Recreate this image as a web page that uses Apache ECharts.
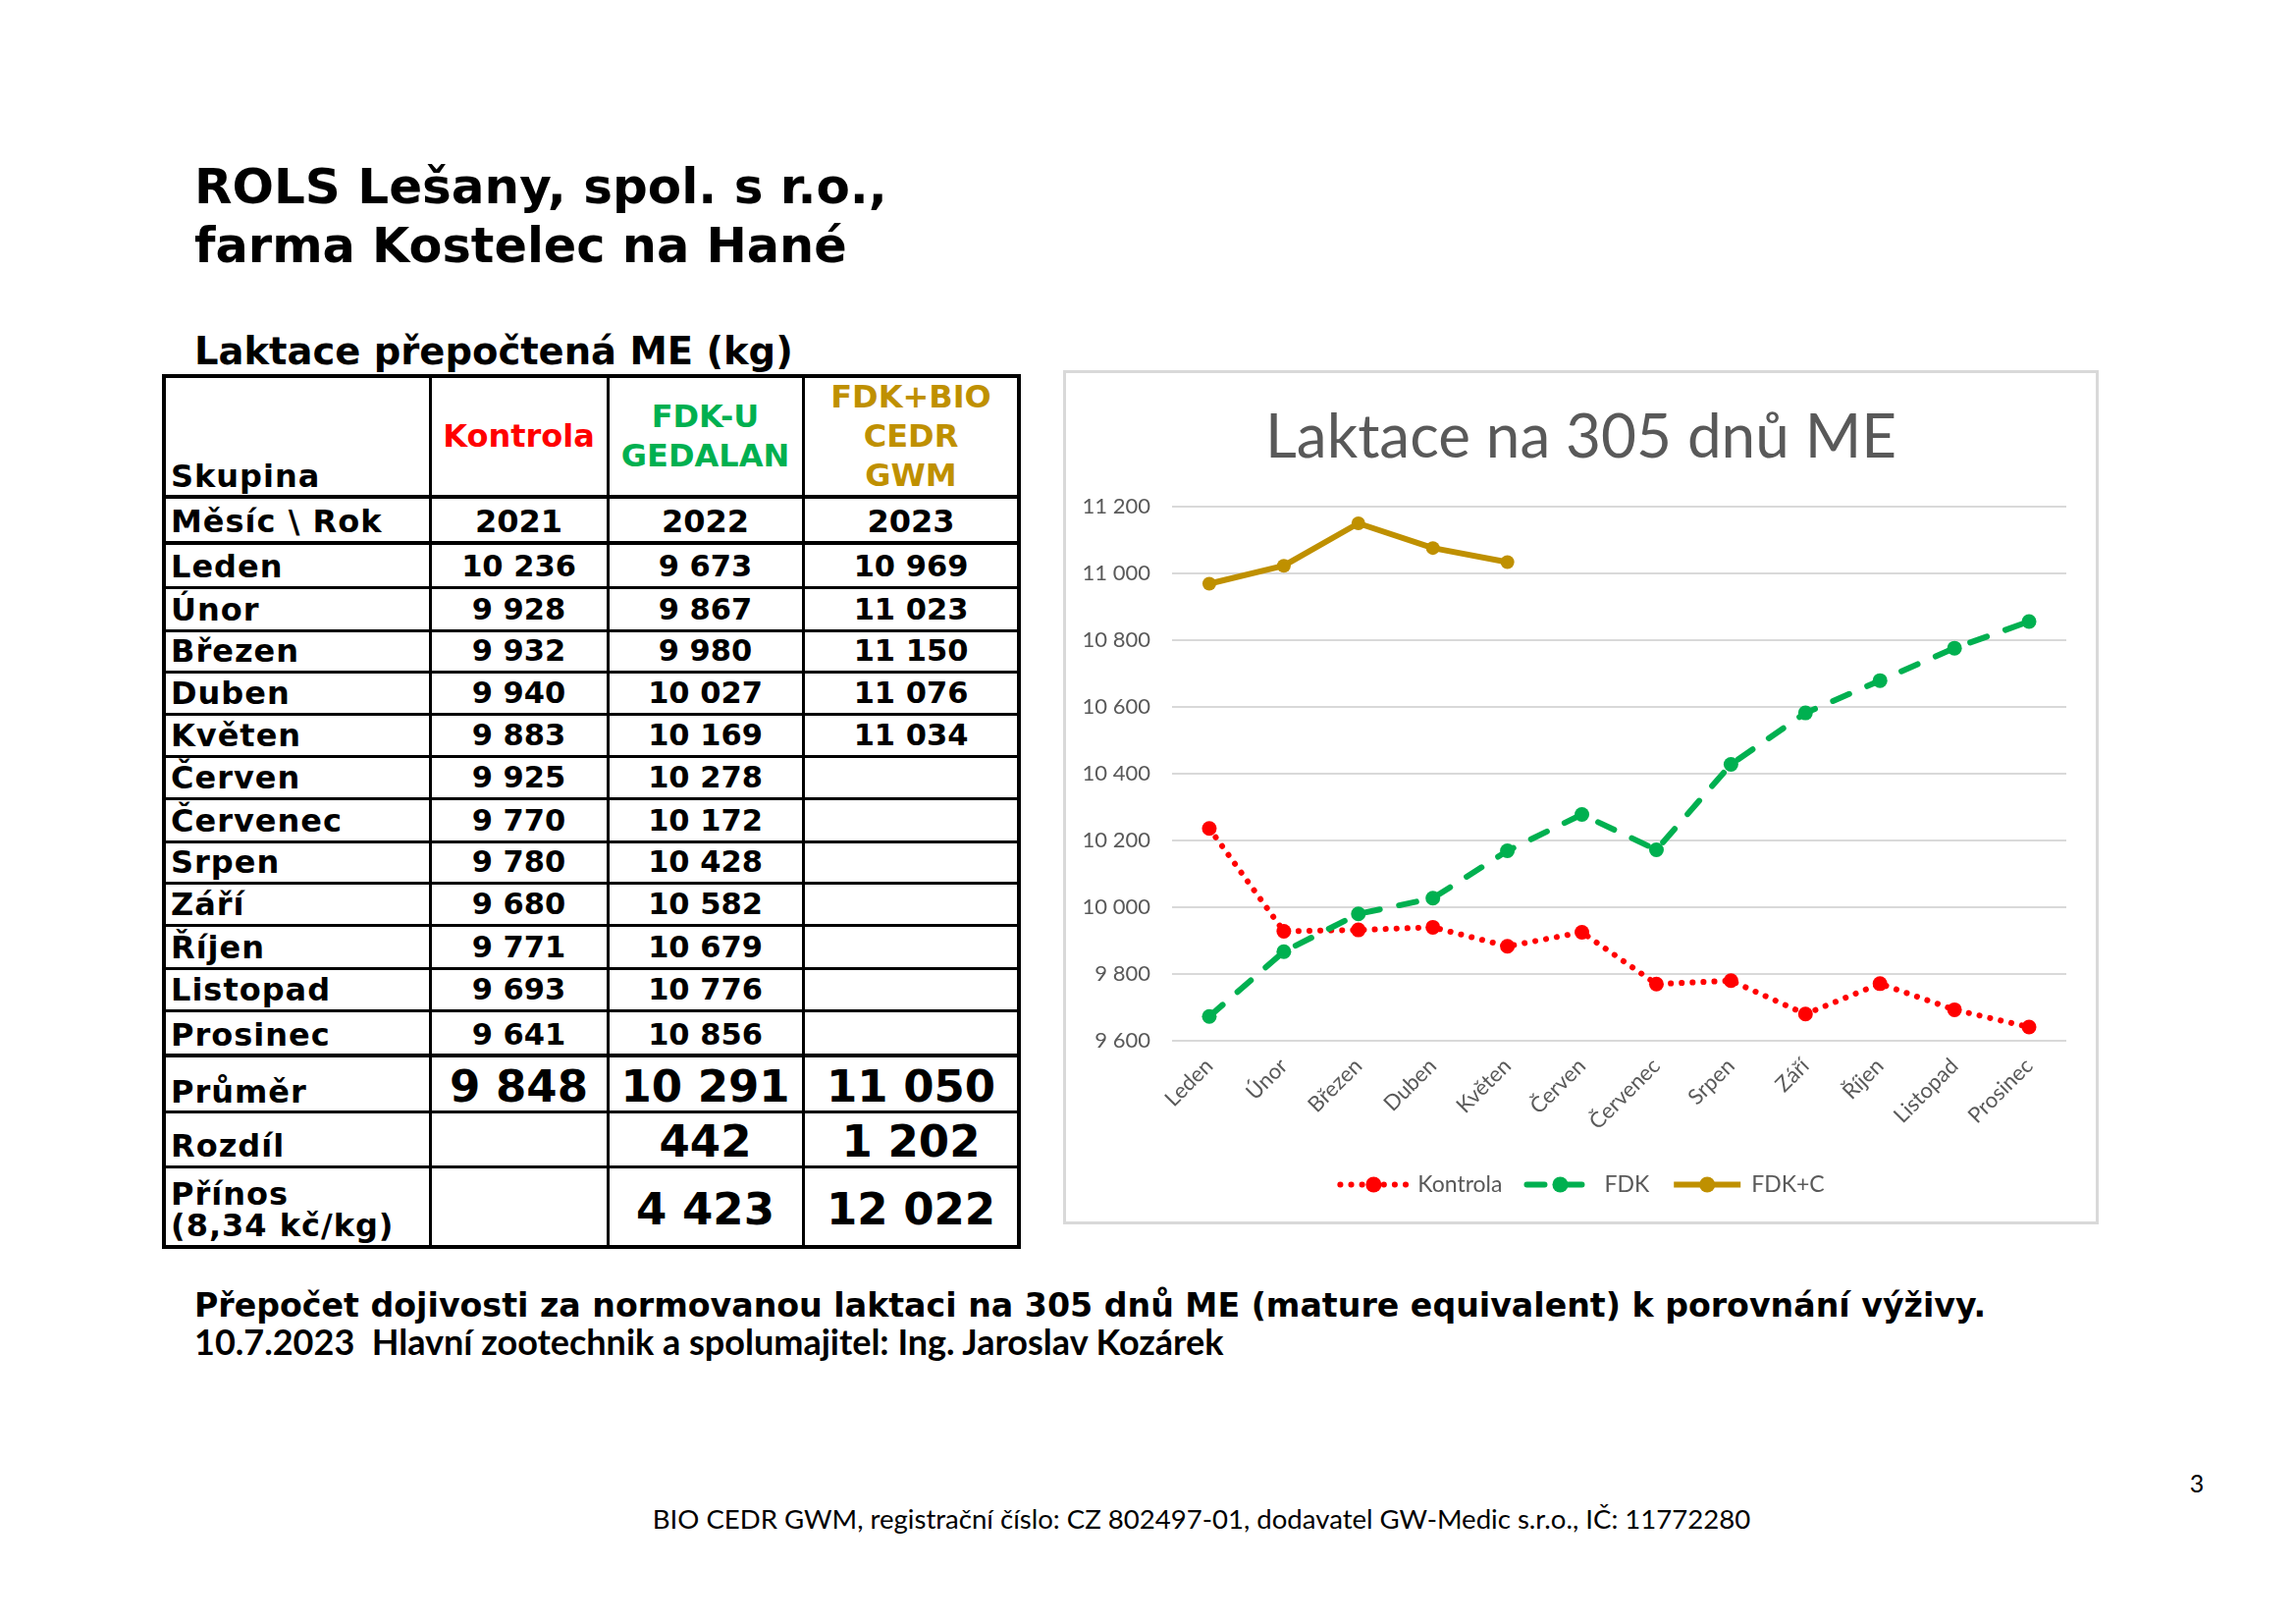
<!DOCTYPE html>
<html><head><meta charset="utf-8">
<script src="https://cdn.jsdelivr.net/npm/echarts@6/dist/echarts.min.js"></script>
<style>
html,body{margin:0;padding:0;background:#fff;}
#page{position:relative;width:2339px;height:1654px;overflow:hidden;background:#fff;}
.t{position:absolute;white-space:pre;line-height:1;}
.ln{position:absolute;background:#000;}
#chart{position:absolute;left:1085px;top:379px;width:1051px;height:865px;}
#chartBorder{position:absolute;left:1083px;top:377px;width:1055px;height:870px;border:3px solid #d9d9d9;box-sizing:border-box;pointer-events:none;}
</style></head>
<body><div id="page"><div id="chart"></div><div id="chartBorder"></div></div>
<script>
// ---------------- DATA ----------------
const months = ['Leden','Únor','Březen','Duben','Květen','Červen','Červenec','Srpen','Září','Říjen','Listopad','Prosinec'];
const kontrola = [10236, 9928, 9932, 9940, 9883, 9925, 9770, 9780, 9680, 9771, 9693, 9641];
const fdk = [9673, 9867, 9980, 10027, 10169, 10278, 10172, 10428, 10582, 10679, 10776, 10856];
const fdkPlusC = [10969, 11023, 11150, 11076, 11034];
const seriesNames = ['Kontrola', 'FDK', 'FDK+C'];
const groupNames = ['Kontrola', 'FDK-U\nGEDALAN', 'FDK+BIO\nCEDR\nGWM'];
const years = ['2021', '2022', '2023'];
const averages = [9848, 10291, 11050];
const differences = [null, 442, 1202];
const benefits = [null, 4423, 12022];
const yMin = 9600, yMax = 11200, yStep = 200;
const chartTitle = 'Laktace na 305 dnů ME';
const pageTitle = ['ROLS Lešany, spol. s r.o.,', 'farma Kostelec na Hané'];
const tableTitle = 'Laktace přepočtená ME (kg)';
const rowLabels = ['Skupina', 'Měsíc \\ Rok', 'Průměr', 'Rozdíl', 'Přínos\n(8,34 kč/kg)'];
const noteLines = ['Přepočet dojivosti za normovanou laktaci na 305 dnů ME (mature equivalent) k porovnání výživy.',
                   '10.7.2023  Hlavní zootechnik a spolumajitel: Ing. Jaroslav Kozárek'];
const footerText = 'BIO CEDR GWM, registrační číslo: CZ 802497-01, dodavatel GW-Medic s.r.o., IČ: 11772280';
const pageNumber = '3';

// ---------------- COLORS / STYLE ----------------
const RED = '#FF0000', GREEN = '#00B050', GOLD = '#BF9000', GREY = '#595959';
const groupColors = [RED, GREEN, GOLD];
const DV = "'DejaVu Sans', Verdana, sans-serif";
const LATO = "Lato, 'Open Sans', sans-serif";
const ASC = {dv: 0.846, lato: 0.887};

const fmt = v => (v == null ? '' : String(v).replace(/\B(?=(\d{3})+(?!\d))/g, ' '));
const page = document.getElementById('page');

function place(text, o) {
  const s = document.createElement('span');
  s.className = 't';
  s.textContent = text;
  s.style.fontFamily = o.ff || DV;
  s.style.fontWeight = o.fw || 'bold';
  s.style.fontSize = o.fs + 'px';
  s.style.color = o.color || '#000';
  if (o.ls) s.style.letterSpacing = o.ls + 'px';
  page.appendChild(s);
  let fs = o.fs;
  if (o.w) {
    const w0 = s.getBoundingClientRect().width;
    fs = o.fs * o.w / w0;
    s.style.fontSize = fs + 'px';
  }
  const w = s.getBoundingClientRect().width - (o.ls || 0);
  s.style.top = (o.base - (o.asc || ASC.dv) * fs) + 'px';
  s.style.left = (o.cx != null ? o.cx - w / 2 : o.x) + 'px';
  return s;
}
function line(x, y, w, h) {
  const d = document.createElement('div');
  d.className = 'ln';
  d.style.left = x + 'px'; d.style.top = y + 'px';
  d.style.width = w + 'px'; d.style.height = h + 'px';
  page.appendChild(d);
}

// ---------------- HEADINGS ----------------
place(pageTitle[0], {x: 198, base: 207, fs: 47, w: 706});
place(pageTitle[1], {x: 198, base: 268, fs: 47, w: 665});
place(tableTitle, {x: 198, base: 372, fs: 38, w: 610});

// ---------------- TABLE ----------------
const colX = [167, 438, 619, 818, 1038];
const rowY = [383, 506, 553, 598, 642, 684, 727, 770, 813, 857, 899, 942, 986, 1029, 1075, 1132, 1188, 1270];
const colC = [0, 1, 2].map(i => (colX[i + 1] + colX[i + 2]) / 2);
const LX = 174;
const LBL = {fs: 32, ls: 1};
rowY.forEach((y, i) => {
  const thick = (i === 0 || i === rowY.length - 1) ? 4 : (i === 1 || i === 2 || i === 14) ? 4 : 3;
  line(colX[0], y - thick / 2, colX[4] - colX[0], thick);
});
colX.forEach((x, i) => {
  const thick = (i === 0 || i === 4) ? 4 : 3;
  line(x - thick / 2, rowY[0] - 2, thick, rowY[rowY.length - 1] - rowY[0] + 4);
});
// header row
place(rowLabels[0], Object.assign({x: LX, base: 496}, LBL));
groupNames.forEach((g, i) => {
  const parts = g.split('\n');
  const c = (rowY[0] + rowY[1]) / 2;
  parts.forEach((p, k) => {
    place(p, {cx: colC[i], base: c + 11 + (k - (parts.length - 1) / 2) * 40, fs: 32, color: groupColors[i]});
  });
});
// year row
place(rowLabels[1], Object.assign({x: LX, base: rowY[2] - 11}, LBL));
years.forEach((y, i) => place(y, {cx: colC[i], base: rowY[2] - 11, fs: 32}));
// months
months.forEach((m, r) => {
  const base = rowY[3 + r] - 10;
  place(m, Object.assign({x: LX, base}, LBL));
  [kontrola[r], fdk[r], fdkPlusC[r]].forEach((v, i) => {
    if (v != null) place(fmt(v), {cx: colC[i], base, fs: 30.5});
  });
});
// summary rows
place(rowLabels[2], Object.assign({x: LX, base: rowY[15] - 9}, LBL));
averages.forEach((v, i) => place(fmt(v), {cx: colC[i], base: rowY[15] - 10, fs: 45}));
place(rowLabels[3], Object.assign({x: LX, base: rowY[16] - 10}, LBL));
differences.forEach((v, i) => { if (v != null) place(fmt(v), {cx: colC[i], base: rowY[16] - 10, fs: 45}); });
rowLabels[4].split('\n').forEach((p, k) => place(p, Object.assign({x: LX, base: 1227 + k * 32}, LBL)));
benefits.forEach((v, i) => { if (v != null) place(fmt(v), {cx: colC[i], base: rowY[17] - 23, fs: 45}); });

// ---------------- NOTES / FOOTER ----------------
place(noteLines[0], {x: 198, base: 1341, fs: 28, w: 1826});
place(noteLines[1], {x: 198, base: 1380, fs: 28, w: 1049, ff: LATO, asc: ASC.lato});
place(footerText, {cx: 1224, base: 1557, fs: 25, w: 1119, ff: LATO, fw: 'normal', asc: ASC.lato});
place(pageNumber, {cx: 2238, base: 1520, fs: 25, ff: LATO, fw: 'normal', asc: ASC.lato});

// ---------------- CHART ----------------
const chart = echarts.init(document.getElementById('chart'), null, {renderer: 'canvas'});
const axisText = {fontFamily: LATO, fontSize: 22, color: GREY};
chart.setOption({
  animation: false,
  title: {
    text: chartTitle, left: 'center', top: 36, padding: 0,
    textStyle: {fontFamily: LATO, fontSize: 62, fontWeight: 'normal', color: GREY}
  },
  grid: {left: 109, right: 31, top: 137, bottom: 184, containLabel: false},
  xAxis: {
    type: 'category', data: months, boundaryGap: true,
    axisLine: {show: false}, axisTick: {show: false},
    axisLabel: Object.assign({rotate: 45, interval: 0, margin: 22}, axisText),
    splitLine: {show: false}
  },
  yAxis: {
    type: 'value', min: yMin, max: yMax, interval: yStep,
    axisLine: {show: false}, axisTick: {show: false},
    axisLabel: Object.assign({margin: 22, formatter: v => fmt(v)}, axisText),
    splitLine: {lineStyle: {color: '#d9d9d9', width: 2}}
  },
  legend: {
    data: seriesNames, left: 'center', top: 811, itemWidth: 68, itemHeight: 20, itemGap: 22,
    padding: [5, 5, 5, 32],
    lineStyle: {width: 6},
    textStyle: {fontFamily: LATO, fontSize: 23, color: GREY, padding: [0, 0, 0, 6]}
  },
  series: [
    {
      name: seriesNames[0], type: 'line', data: kontrola, symbol: 'circle', symbolSize: 15,
      itemStyle: {color: RED}, lineStyle: {color: RED, width: 6, type: [0.1, 11], cap: 'round'}
    },
    {
      name: seriesNames[1], type: 'line', data: fdk, symbol: 'circle', symbolSize: 15,
      itemStyle: {color: GREEN}, lineStyle: {color: GREEN, width: 6, type: [18, 20], cap: 'round'}
    },
    {
      name: seriesNames[2], type: 'line', data: fdkPlusC, symbol: 'circle', symbolSize: 14,
      itemStyle: {color: GOLD}, lineStyle: {color: GOLD, width: 6}
    }
  ]
});
</script></body></html>
